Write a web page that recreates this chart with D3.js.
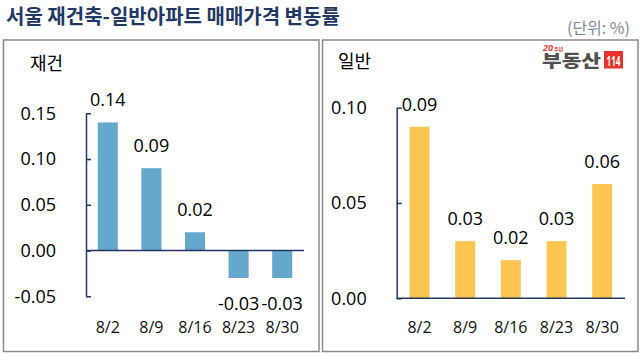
<!DOCTYPE html>
<html><head><meta charset="utf-8">
<script src="https://cdn.jsdelivr.net/npm/d3@7"></script>
<style>
html,body{margin:0;padding:0;background:#fff;}
text{font-family:"Open Sans","Noto Sans CJK KR",sans-serif;}
.kr{font-family:"Noto Sans CJK KR",sans-serif;}
</style></head>
<body><svg id="c" width="643" height="360"></svg>
<script>
const dates = ["8/2","8/9","8/16","8/23","8/30"];
const reconValues = [0.14, 0.09, 0.02, -0.03, -0.03];
const generalValues = [0.09, 0.03, 0.02, 0.03, 0.06];
const reconTicks = [-0.05, 0, 0.05, 0.10, 0.15];
const generalTicks = [0, 0.05, 0.10];
const titleText = "서울 재건축-일반아파트 매매가격 변동률";
const unitText = "(단위: %)";

const svg = d3.select("#c");
const f2 = d3.format(".2f");
const fmt = d => f2(d).replace("\u2212","-");

svg.append("text").attr("class","kr").attr("x",6).attr("y",24)
  .attr("font-size",20).attr("font-weight",700).attr("fill","#1f3864").text(titleText);
svg.append("text").attr("class","kr").attr("x",630).attr("y",34).attr("text-anchor","end")
  .attr("font-size",16).attr("fill","#7f8a99").text(unitText);

svg.append("rect").attr("x",3.5).attr("y",40).attr("width",315.5).attr("height",311.5)
  .attr("fill","none").attr("stroke","#8a8a8a").attr("stroke-width",1.5);
svg.append("rect").attr("x",322.5).attr("y",40).attr("width",315.5).attr("height",311.5)
  .attr("fill","none").attr("stroke","#8a8a8a").attr("stroke-width",1.5);

function panel(cfg){
  const g = svg.append("g");
  const x = d3.scaleBand().domain(dates).range([cfg.x0,cfg.x1])
    .paddingInner(cfg.pi).paddingOuter(cfg.pi/2);
  const y = d3.scaleLinear().domain(cfg.domain).range(cfg.yr);
  g.selectAll("rect.bar").data(cfg.values).join("rect").attr("class","bar")
    .attr("x",(d,i)=>x(dates[i])).attr("width",x.bandwidth())
    .attr("y",d=>y(Math.max(0,d))).attr("height",d=>Math.abs(y(d)-y(0)))
    .attr("fill",cfg.color);
  const ax = g.append("g").attr("transform",`translate(${cfg.x0},0)`)
    .call(d3.axisLeft(y).tickValues(cfg.ticks).tickSizeInner(-5).tickSizeOuter(0)
      .tickPadding(30).tickFormat(fmt));
  ax.selectAll("path,line").attr("stroke","#1f3864").attr("stroke-width",1.5);
  ax.selectAll("text").attr("font-size",18).attr("fill","#000")
    .attr("font-family","'Open Sans','Noto Sans CJK KR',sans-serif");
  g.append("line").attr("x1",cfg.x0).attr("x2",cfg.x1).attr("y1",y(0)).attr("y2",y(0))
    .attr("stroke","#1f3864").attr("stroke-width",1.5);
  g.selectAll("text.val").data(cfg.values).join("text").attr("class","val")
    .attr("x",(d,i)=>x(dates[i])+x.bandwidth()/2)
    .attr("y",d=> d>=0 ? y(d)-16 : y(d)+32)
    .attr("text-anchor","middle").attr("font-size",18).attr("fill","#000")
    .text(d=>fmt(d));
  g.selectAll("text.cat").data(dates).join("text").attr("class","cat")
    .attr("x",d=>x(d)+x.bandwidth()/2).attr("y",333)
    .attr("text-anchor","middle").attr("font-size",16).attr("fill","#111").text(d=>d);
  g.append("text").attr("class","kr").attr("x",cfg.tx).attr("y",cfg.ty)
    .attr("font-size",18).attr("fill","#000").text(cfg.title);
}

panel({x0:86,x1:304,pi:0.54,domain:[-0.05,0.15],yr:[296.3,113.3],values:reconValues,
  ticks:reconTicks,color:"#66a8cd",title:"재건",tx:30,ty:70});
panel({x0:396.7,x1:625,pi:0.562,domain:[0,0.10],yr:[298.3,107.7],values:generalValues,
  ticks:generalTicks,color:"#ffc551",title:"일반",tx:338,ty:68});

// logo: one text element with tspans
const logo = svg.append("g");
const lt = logo.append("text").attr("class","kr");
lt.append("tspan").attr("x",543).attr("y",51).attr("font-size",9).attr("font-weight",900)
  .attr("font-style","italic").attr("fill","#e8322b").attr("font-family","'Liberation Sans',sans-serif").text("20");
lt.append("tspan").attr("x",554).attr("y",50.5).attr("font-size",5).attr("font-weight",700)
  .attr("fill","#e8322b").text("주년");
lt.append("tspan").attr("x",542).attr("y",67).attr("font-size",17).attr("font-weight",900)
  .attr("fill","#505050").attr("textLength",59).attr("lengthAdjust","spacingAndGlyphs").text("부동산");
logo.append("rect").attr("x",604).attr("y",51).attr("width",19).attr("height",17.5).attr("fill","#e8322b");
logo.append("text").attr("x",613.5).attr("y",66).attr("text-anchor","middle").attr("font-size",15)
  .attr("font-weight",700).attr("fill","#fff").attr("font-family","'Liberation Sans Narrow','Liberation Sans',sans-serif")
  .attr("textLength",14).attr("lengthAdjust","spacingAndGlyphs").text("114");
</script></body></html>
